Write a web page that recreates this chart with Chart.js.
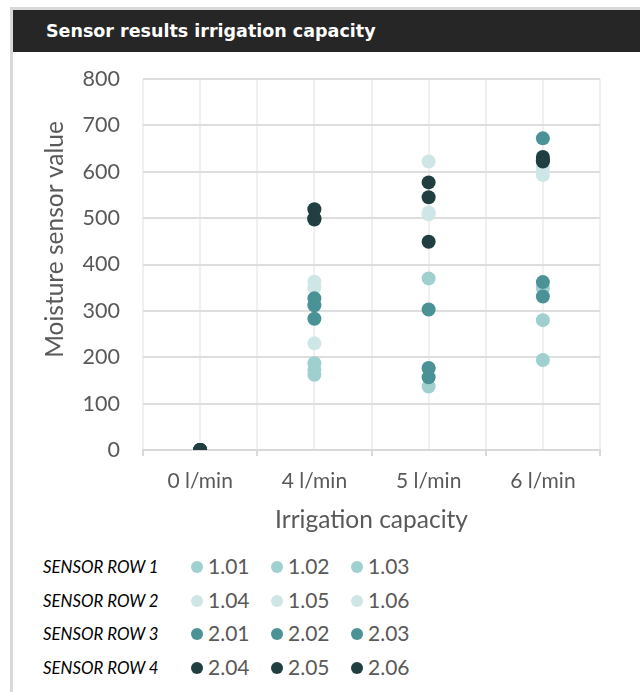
<!DOCTYPE html>
<html>
<head>
<meta charset="utf-8">
<script src="https://cdn.jsdelivr.net/npm/chart.js@4"></script>
<style>
  body { margin: 0; background: #fff; font-family: Lato, "Open Sans", sans-serif; }
  #frame { position: absolute; left: 10px; top: 7px; width: 630px; height: 685px;
           border-left: 3px solid #d9d9d9; border-top: 3px solid #d9d9d9; }
  #titleBar { position: absolute; left: 13px; top: 10px; width: 627px; height: 42px;
              background: #262626; color: #fff; font: bold 17.5px "DejaVu Sans", sans-serif;
              line-height: 42px; padding-left: 33px; box-sizing: border-box; }
  #wrap { position: absolute; left: 13px; top: 52px; }
  #legend { position: absolute; left: 43px; top: 551px; }
  .row { position: relative; height: 33.5px; }
  .rowName { position: absolute; left: 0; top: 5px; font: italic 16.8px Lato, sans-serif; color: #000; white-space: nowrap; }
  .item { position: absolute; top: 2px; font: 21px Lato, sans-serif; color: #595959; white-space: nowrap; }
  .dot { display: inline-block; width: 12px; height: 12px; border-radius: 50%; margin-right: 5px; vertical-align: 1px; }
</style>
</head>
<body>
<div id="frame"></div>
<div id="titleBar">Sensor results irrigation capacity</div>
<div id="wrap"><canvas id="myChart" width="627" height="495"></canvas></div>
<div id="legend"></div>
<script>
const categories = ['0 l/min', '4 l/min', '5 l/min', '6 l/min'];
const yTicks = [0, 100, 200, 300, 400, 500, 600, 700, 800];
const rowNames = ['SENSOR ROW 1', 'SENSOR ROW 2', 'SENSOR ROW 3', 'SENSOR ROW 4'];
const rowColors = ['#a0cfd0', '#cfe6e7', '#4a9295', '#213f41'];
const seriesNames = ['1.01', '1.02', '1.03', '1.04', '1.05', '1.06',
                     '2.01', '2.02', '2.03', '2.04', '2.05', '2.06'];

// values per sensor, one per irrigation capacity
const s101 = [0, 187, 370, 349];
const s102 = [0, 173, 176, 280];
const s103 = [0, 162, 137, 194];
const s104 = [0, 363, 622, 610];
const s105 = [0, 350, 512, 600];
const s106 = [0, 230, 508, 593];
const s201 = [0, 327, 303, 672];
const s202 = [0, 312, 177, 362];
const s203 = [0, 283, 157, 331];
const s204 = [0, 519, 577, 632];
const s205 = [0, 500, 545, 625];
const s206 = [0, 497, 449, 622];
const seriesValues = [s101, s102, s103, s104, s105, s106, s201, s202, s203, s204, s205, s206];

const grey = '#595959';
const fontName = 'Lato, "Open Sans", sans-serif';
const yTitle = 'Moisture sensor value';

const datasets = seriesNames.map((name, i) => {
  const color = rowColors[Math.floor(i / 3)];
  return {
    label: name,
    data: seriesValues[i].map((v, c) => ({ x: 2 * c + 1, y: v })),
    backgroundColor: color,
    borderColor: color,
    borderWidth: 0,
    pointRadius: 7,
    order: seriesNames.length - i // darker rows on top
  };
});

// y title drawn by hand, Excel puts it a bit above the plot middle
const yTitlePlugin = {
  id: 'yTitle',
  afterDraw(chart) {
    const ctx = chart.ctx;
    const area = chart.chartArea;
    ctx.save();
    ctx.translate(42, (area.top + area.bottom) / 2 - 25);
    ctx.rotate(-Math.PI / 2);
    ctx.font = '24.5px ' + fontName;
    ctx.fillStyle = grey;
    ctx.textAlign = 'center';
    ctx.textBaseline = 'middle';
    ctx.fillText(yTitle, 0, 0);
    ctx.restore();
  }
};

new Chart(document.getElementById('myChart'), {
  type: 'scatter',
  data: { datasets: datasets },
  plugins: [yTitlePlugin],
  options: {
    responsive: false,
    animation: false,
    events: [],
    layout: { padding: { left: 28, right: 40, top: 27, bottom: 12 } },
    plugins: { legend: { display: false }, tooltip: { enabled: false } },
    scales: {
      x: {
        type: 'linear',
        min: 0,
        max: categories.length * 2,
        ticks: {
          stepSize: 1,
          autoSkip: false,
          maxRotation: 0,
          color: grey,
          font: { family: fontName, size: 21 },
          padding: 13,
          callback: (v) => (v % 2 === 1 ? categories[(v - 1) / 2] : '')
        },
        grid: {
          color: '#f0f0f0',
          lineWidth: 2,
          tickLength: 6,
          tickColor: (ctx) => (ctx.tick && ctx.tick.value % 2 === 0 ? '#d9d9d9' : 'rgba(0,0,0,0)')
        },
        border: { color: '#d9d9d9', width: 2 },
        title: {
          display: true,
          text: 'Irrigation capacity',
          color: grey,
          font: { family: fontName, size: 24.5 },
          padding: 0
        },
        afterFit: (scale) => { scale.height = 85; scale.paddingLeft = 0; scale.paddingRight = 0; }
      },
      y: {
        min: yTicks[0],
        max: yTicks[yTicks.length - 1],
        afterBuildTicks: (scale) => { scale.ticks = yTicks.map(v => ({ value: v })); },
        ticks: {
          color: grey,
          font: { family: fontName, size: 21.5 },
          padding: 23
        },
        grid: { color: '#dedede', lineWidth: 2, drawTicks: false },
        border: { display: false },
        afterFit: (scale) => { scale.width = 102; scale.paddingTop = 0; scale.paddingBottom = 0; }
      }
    }
  }
});

// legend: one row per sensor row, three sensors each
const legend = document.getElementById('legend');
rowNames.forEach((rowName, r) => {
  const row = document.createElement('div');
  row.className = 'row';
  row.innerHTML = '<span class="rowName">' + rowName + '</span>';
  for (let k = 0; k < 3; k++) {
    const item = document.createElement('span');
    item.className = 'item';
    item.style.left = (148 + k * 80) + 'px';
    item.innerHTML = '<span class="dot" style="background:' + rowColors[r] + '"></span>' + seriesNames[r * 3 + k];
    row.appendChild(item);
  }
  legend.appendChild(row);
});
</script>
</body>
</html>
